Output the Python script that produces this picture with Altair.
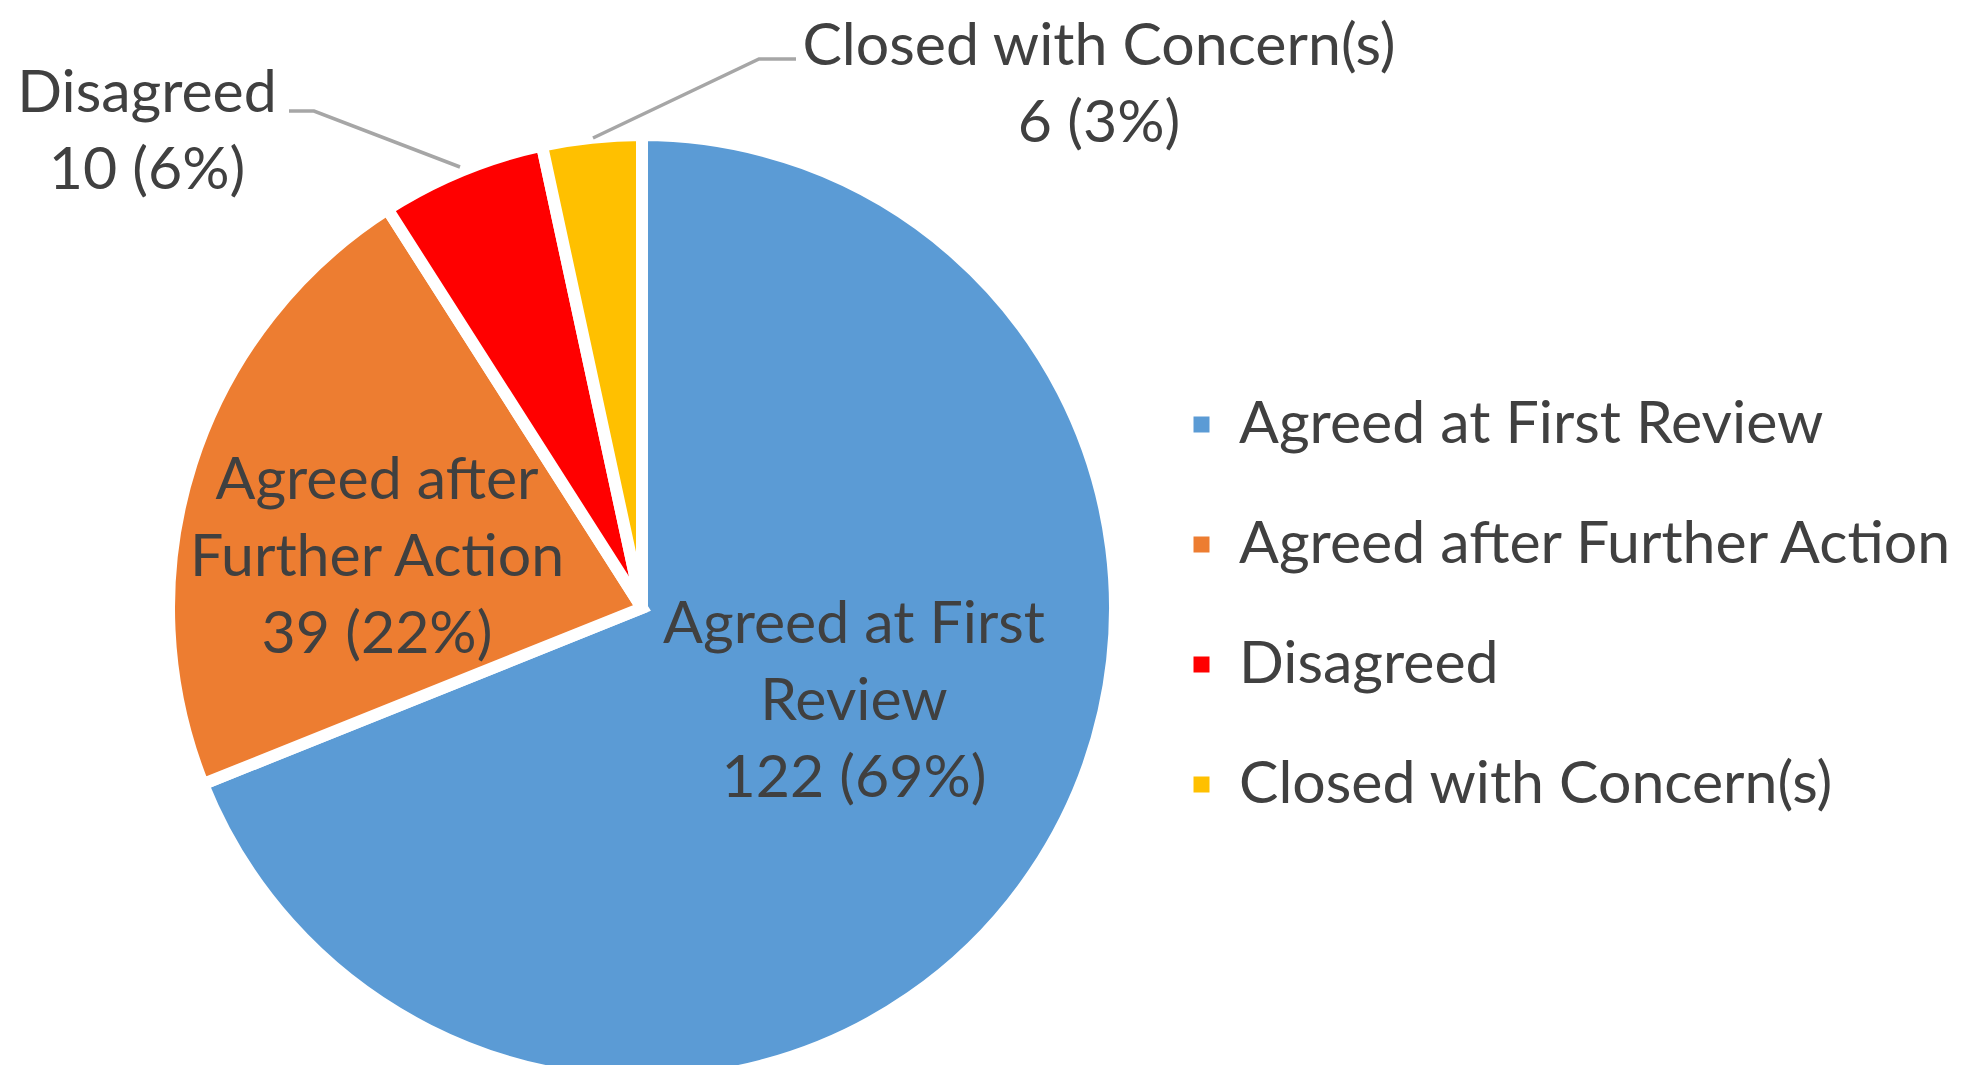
import altair as alt
import pandas as pd

categories = ["Agreed at First Review", "Agreed after Further Action", "Disagreed", "Closed with Concern(s)"]
values = [122, 39, 10, 6]
colors = ["#5B9BD5", "#ED7D31", "#FF0000", "#FFC000"]
label_lines = [["Agreed at First", "Review"], ["Agreed after", "Further Action"], ["Disagreed"], ["Closed with Concern(s)"]]

total = sum(values)
pct = [round(v / total * 100) for v in values]

# layout (chart pixel coordinates)
W, H = 1954, 1057
CX, CY, R = 634, 600, 473
FS = 59
label_pos = [(846, 617), (369, 473), (139, 86), (1091, 39)]  # centre x, first-line y
leaders = [
    [(281, 103), (306, 103), (452, 159)],
    [(788, 51), (751, 51), (585, 130)],
]

pie_df = pd.DataFrame({"category": categories, "value": values, "order": list(range(len(values)))})

lab_df = pd.DataFrame({
    "text": ["\n".join(lines + [f"{v} ({p}%)"]) for lines, v, p in zip(label_lines, values, pct)],
    "x": [p[0] for p in label_pos],
    "y": [p[1] for p in label_pos],
})

lead_rows = []
for gi, pts in enumerate(leaders):
    for k, (x, y) in enumerate(pts):
        lead_rows.append({"g": gi, "k": k, "x": x, "y": y})
lead_df = pd.DataFrame(lead_rows)

pie = alt.Chart(pie_df).mark_arc(outerRadius=R, stroke="white", strokeWidth=12).encode(
    theta=alt.Theta("value:Q", stack=True),
    order=alt.Order("order:Q"),
    color=alt.Color(
        "category:N",
        scale=alt.Scale(domain=categories, range=colors),
        sort=categories,
        legend=alt.Legend(
            title=None, orient="none", legendX=1164, legendY=387,
            symbolType="square", symbolSize=256, symbolStrokeWidth=0,
            labelFont="Lato", labelFontSize=FS, labelColor="#404040",
            rowPadding=60, labelOffset=8, labelLimit=1000,
        ),
    ),
    x=alt.value(CX),
    y=alt.value(CY),
)

labels = alt.Chart(lab_df).mark_text(
    lineBreak="\n", font="Lato", fontSize=FS, color="#404040", lineHeight=77,
    align="center", baseline="middle",
).encode(
    x=alt.X("x:Q", scale=None, axis=None),
    y=alt.Y("y:Q", scale=None, axis=None),
    text="text:N",
)

lines = alt.Chart(lead_df).mark_line(color="#A6A6A6", strokeWidth=3.5).encode(
    x=alt.X("x:Q", scale=None, axis=None),
    y=alt.Y("y:Q", scale=None, axis=None),
    detail="g:N",
    order="k:Q",
)

chart = alt.layer(pie, lines, labels).properties(
    width=W, height=H, autosize=alt.AutoSizeParams(type="none"), padding=0,
).configure_view(stroke=None)

chart.save("out.html", embed_options={"renderer": "svg", "actions": False})
